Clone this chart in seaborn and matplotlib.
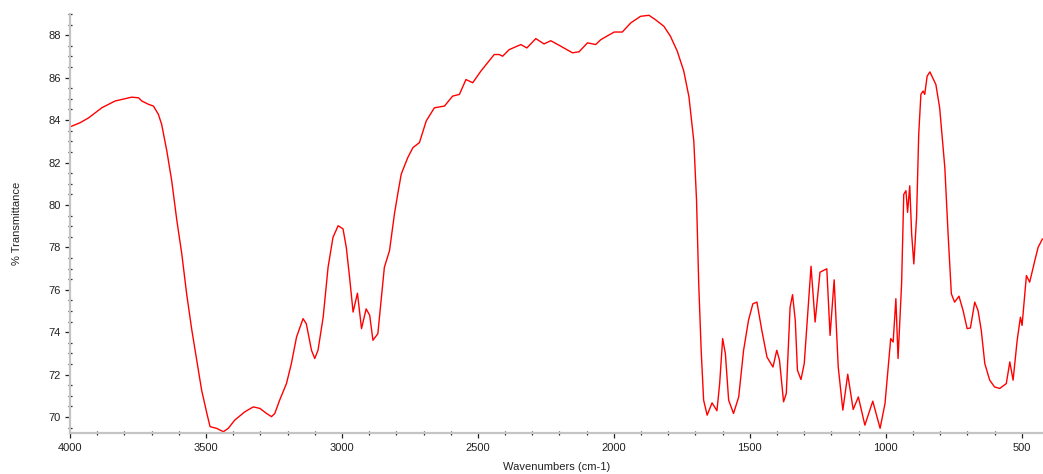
import numpy as np
import pandas as pd
import matplotlib
matplotlib.use("Agg")
import matplotlib.pyplot as plt
from matplotlib.ticker import MultipleLocator
import seaborn as sns

wavenumbers = [
    3996, 3962, 3931, 3883, 3834, 3800, 3773, 3748, 3736, 3711, 3693, 3675, 3663,
    3644, 3626, 3607, 3589, 3571, 3552, 3534, 3516, 3497, 3485, 3461, 3436, 3418,
    3394, 3357, 3326, 3302, 3277, 3259, 3247, 3229, 3204, 3186, 3167, 3143, 3131,
    3112, 3100, 3088, 3069, 3051, 3033, 3014, 2996, 2984, 2972, 2959, 2943, 2928,
    2911, 2898, 2886, 2868, 2856, 2844, 2825, 2807, 2795, 2782, 2758, 2739, 2715,
    2690, 2660, 2623, 2593, 2568, 2544, 2519, 2489, 2440, 2422, 2409, 2385, 2342,
    2320, 2287, 2257, 2232, 2195, 2152, 2128, 2097, 2067, 2048, 1999, 1969, 1938,
    1902, 1871, 1847, 1816, 1792, 1767, 1743, 1724, 1706, 1696, 1688, 1679, 1670,
    1657, 1639, 1621, 1611, 1600, 1590, 1578, 1560, 1541, 1523, 1505, 1489, 1474,
    1456, 1437, 1415, 1401, 1391, 1376, 1366, 1352, 1343, 1333, 1325, 1312, 1300,
    1284, 1275, 1260, 1242, 1217, 1205, 1190, 1175, 1158, 1140, 1120, 1101, 1077,
    1048, 1021, 1003, 982, 973, 963, 955, 942, 934, 926, 920, 912, 905, 897, 887,
    879, 871, 863, 857, 848, 838, 816, 802, 783, 771, 759, 747, 731, 716, 701, 689,
    673, 661, 649, 636, 618, 600, 581, 557, 544, 532, 517, 505, 499, 483, 471, 452,
    440, 424,
]

transmittance = [
    83.70, 83.88, 84.11, 84.58, 84.90, 85.00, 85.08, 85.05, 84.90, 84.74, 84.66, 84.27, 83.80,
    82.55, 81.14, 79.26, 77.70, 75.80, 74.10, 72.70, 71.27, 70.19, 69.55, 69.47, 69.31, 69.47,
    69.86, 70.25, 70.48, 70.41, 70.17, 70.02, 70.17, 70.80, 71.58, 72.52, 73.77, 74.64, 74.40,
    73.15, 72.76, 73.15, 74.71, 77.06, 78.47, 79.02, 78.87, 78.00, 76.60, 74.95, 75.84, 74.17,
    75.10, 74.80, 73.62, 73.93, 75.50, 77.06, 77.85, 79.57, 80.50, 81.45, 82.23, 82.70, 82.94,
    83.96, 84.58, 84.66, 85.13, 85.21, 85.91, 85.76, 86.31, 87.09, 87.09, 87.01, 87.32, 87.56,
    87.40, 87.84, 87.59, 87.74, 87.48, 87.17, 87.22, 87.64, 87.56, 87.79, 88.15, 88.15, 88.58,
    88.89, 88.94, 88.73, 88.42, 87.95, 87.25, 86.31, 85.10, 83.00, 80.20, 76.28, 73.15, 70.80,
    70.09, 70.67, 70.30, 71.58, 73.70, 72.99, 70.80, 70.17, 70.95, 73.15, 74.56, 75.34, 75.42,
    74.09, 72.83, 72.36, 73.15, 72.68, 70.72, 71.11, 75.18, 75.77, 74.56, 72.21, 71.77, 72.52,
    75.50, 77.11, 74.48, 76.83, 76.99, 73.85, 76.47, 72.36, 70.33, 72.02, 70.36, 70.95, 69.62,
    70.75, 69.47, 70.64, 73.70, 73.54, 75.58, 72.76, 76.28, 80.50, 80.67, 79.65, 80.90, 78.63, 77.22, 79.41,
    83.33, 85.21, 85.37, 85.21, 86.07, 86.27, 85.68, 84.58, 81.76, 78.63, 75.81, 75.42, 75.70, 75.03, 74.17, 74.20,
    75.42, 75.03, 74.09, 72.52, 71.74, 71.42, 71.35, 71.58, 72.60, 71.74, 73.62, 74.71, 74.32, 76.67, 76.36, 77.38,
    78.00, 78.40,
]

x_major_ticks = [4000, 3500, 3000, 2500, 2000, 1500, 1000, 500]
y_major_ticks = [70, 72, 74, 76, 78, 80, 82, 84, 86, 88]

df = pd.DataFrame({"Wavenumbers": wavenumbers, "Transmittance": transmittance})

sns.set_style("white")
plt.rcParams["font.family"] = ["Liberation Sans", "DejaVu Sans"]

fig = plt.figure(figsize=(10.43, 4.74), dpi=100)
ax = fig.add_axes([70 / 1043, 1 - 433 / 474, (1043 - 70) / 1043, (433 - 14) / 474])

sns.lineplot(data=df, x="Wavenumbers", y="Transmittance", sort=False,
             color="#ff0000", linewidth=1.0, ax=ax)

ax.set_xlim(4000, 422)
ax.set_ylim(69.25, 89.0)

ax.set_xticks(x_major_ticks)
ax.set_xticklabels([str(t) for t in x_major_ticks])
ax.set_yticks(y_major_ticks)
ax.set_yticklabels([str(t) for t in y_major_ticks])
ax.xaxis.set_minor_locator(MultipleLocator(100))
ax.yaxis.set_minor_locator(MultipleLocator(0.5))

for s in ["top", "right"]:
    ax.spines[s].set_visible(False)
for s in ["left", "bottom"]:
    ax.spines[s].set_color("#c4c4c4")
    ax.spines[s].set_linewidth(1.6)

ax.tick_params(axis="both", which="both", bottom=True, left=True, top=False, right=False)
ax.tick_params(axis="both", which="major", direction="out", length=3.5, width=0.9,
               color="#222222", labelsize=8, labelcolor="#222222", pad=3)
ax.tick_params(axis="both", which="minor", direction="inout", length=2.5, width=0.9,
               color="#222222")
ax.tick_params(axis="x", which="major", pad=4)

ax.set_xlabel("Wavenumbers (cm-1)", fontsize=8, color="#222222")
ax.set_ylabel("% Transmittance", fontsize=8, color="#222222")
ax.xaxis.set_label_coords(0.5005, -0.07)
ax.yaxis.set_label_coords(-0.049, 0.5)

fig.savefig("out.png", dpi=100)
